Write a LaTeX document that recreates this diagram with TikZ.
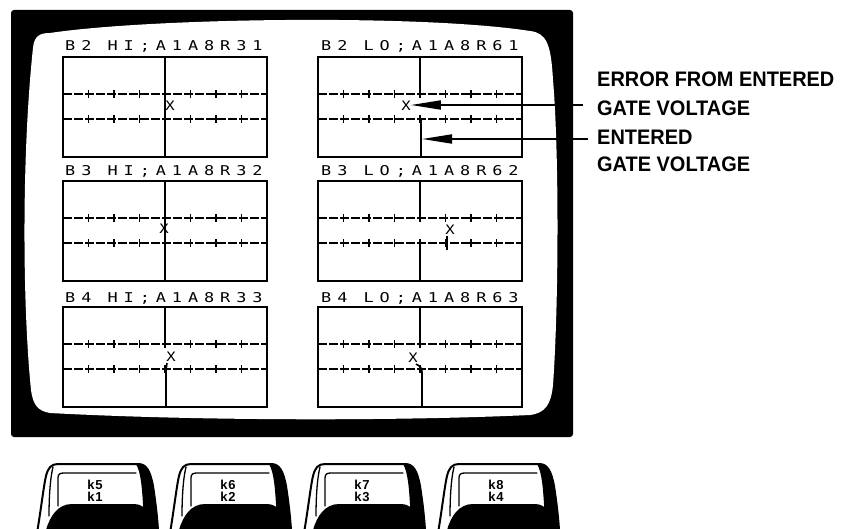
\documentclass[tikz,border=0pt]{standalone}
\usepackage{fontspec}
\usetikzlibrary{arrows.meta}
\newfontfamily\lblfont[FakeStretch=0.95]{Liberation Sans}
\newfontfamily\scrfont[FakeStretch=1.25,LetterSpace=44]{DejaVu Sans Mono}
\newfontfamily\xmfont[FakeStretch=1.2]{DejaVu Sans Mono}
\newfontfamily\keyfnt{Liberation Sans}

\tikzset{
 bezel/.style={fill=black, rounded corners=3pt},
 screen/.style={fill=white},
 frameline/.style={line width=1.6pt},
 gridline/.style={line width=1.6pt, dash pattern=on 9pt off 2pt},
 tickline/.style={line width=1.6pt},
 title/.style={font=\scrfont\fontsize{13.5}{13.5}\selectfont, inner sep=0pt, anchor=base west},
 xmark/.style={font=\xmfont\fontsize{13}{13}\selectfont, inner sep=0pt},
 lbl/.style={font=\lblfont\bfseries\fontsize{21}{21}\selectfont, inner sep=0pt, anchor=base west},
 pointer/.style={line width=1.8pt, -{Triangle[length=30pt,width=9pt]}},
 keyline/.style={line width=2pt, line cap=round, line join=round},
 keythin/.style={line width=1.3pt, line cap=round},
 keytext/.style={font=\keyfnt\bfseries\fontsize{13}{13}\selectfont, inner sep=0pt},
}

\newcommand\scrpanel[2]{%
 \draw[frameline] (#1,#2) rectangle (#1+204,#2+100);
 \draw[gridline] (#1,#2+37) -- (#1+204,#2+37);
 \draw[gridline] (#1,#2+62) -- (#1+204,#2+62);
 \foreach \k in {-3,...,3}{
  \draw[tickline] (#1+102+25.5*\k,#2+33) -- (#1+102+25.5*\k,#2+41);
  \draw[tickline] (#1+102+25.5*\k,#2+58) -- (#1+102+25.5*\k,#2+66);
 }
}

\newcommand\keycap[4]{%
 \begin{scope}[shift={(#1,464)}]
  \fill[white] (1.5,66) .. controls (5,45) and (8,20) .. (10,12) .. controls (12,4) and (15,0) .. (22,0) -- (102,0) .. controls (110,0) and (114,6) .. (117,22) .. controls (119,35) and (121,50) .. (122,66) -- cycle;
  \fill (102,0) .. controls (110,0) and (115,6) .. (117,22) .. controls (119,35) and (121,50) .. (122,66) -- (108,66) -- (107,40) .. controls (106,25) and (105,8) .. (100,0) -- cycle;
  \fill (10,66) .. controls (14,52) and (22,40) .. (36,40) -- (98,40) .. controls (110,40) and (116,52) .. (120,66) -- cycle;
  \draw[keyline] (1.5,66) .. controls (5,45) and (8,20) .. (10,12) .. controls (12,4) and (15,0) .. (22,0) -- (102,0) .. controls (110,0) and (114,6) .. (117,22) .. controls (119,35) and (121,50) .. (122,66);
  \draw[keythin] (22,42) -- (22,14) .. controls (22,10) and (24,9) .. (28,9) -- (100,9);
  \draw[keythin] (17,3) .. controls (14,15) and (13,35) .. (13,52);
  \node[keytext] (#2a) at (59,21) {#3};
  \node[keytext] (#2b) at (59,33) {#4};
 \end{scope}}

\begin{document}
\begin{tikzpicture}[x=1pt,y=-1pt]
\useasboundingbox (0,0) rectangle (850,529);
% monitor
\fill[bezel] (11,10) rectangle (573,437);
\fill[screen] (33,48) .. controls (34,36) and (40,33) .. (50,33)
  .. controls (150,18) and (420,14) .. (530,31)
  .. controls (547,33) and (551,45) .. (553,80)
  .. controls (559,150) and (559,300) .. (553,385)
  .. controls (551,405) and (545,413) .. (530,415)
  .. controls (400,421) and (200,421) .. (50,413)
  .. controls (38,411) and (33,405) .. (31,390)
  .. controls (22,300) and (22,150) .. (33,48) -- cycle;
% panels
\scrpanel{63}{57}
\scrpanel{318}{57}
\scrpanel{63}{181}
\scrpanel{318}{181}
\scrpanel{63}{307}
\scrpanel{318}{307}
% titles
\node[title] (tL1) at (65,51) {B2 HI;A1A8R31};
\node[title] (tR1) at (321,51) {B2 LO;A1A8R61};
\node[title] (tL2) at (65,176) {B3 HI;A1A8R32};
\node[title] (tR2) at (321,176) {B3 LO;A1A8R62};
\node[title] (tL3) at (65,302) {B4 HI;A1A8R33};
\node[title] (tR3) at (321,302) {B4 LO;A1A8R63};
% vertical centre lines
\draw[frameline] (165,57) -- (165,157);
\draw[frameline] (165,181) -- (165,281);
\draw[frameline] (165,307) -- (165,344);
\draw[frameline] (167,363) -- (166,370) -- (166,407);
\draw[frameline] (420,57) -- (420,94);
\draw[frameline] (421,118) -- (421,157);
\draw[frameline] (420,181) -- (420,218);
\draw[frameline] (420,242) -- (420,281);
\draw[frameline] (447,236) -- (447,250);
\draw[frameline] (420,307) -- (420,344);
\draw[frameline] (416,364) .. controls (420,366) and (422,368) .. (422,372) -- (422,407);
% X marks
\node[xmark] (xL1) at (170,106) {X};
\node[xmark] (xR1) at (406,106) {X};
\node[xmark] (xL2) at (164,229) {X};
\node[xmark] (xR2) at (450,230) {X};
\node[xmark] (xL3) at (171,357) {X};
\node[xmark] (xR3) at (413,358) {X};
% labels
\node[lbl] (l1) at (597,87) {ERROR FROM ENTERED};
\node[lbl] (l2) at (597,116) {GATE VOLTAGE};
\node[lbl] (l3) at (597,144.5) {ENTERED};
\node[lbl] (l4) at (597,171.5) {GATE VOLTAGE};
\coordinate (a1s) at (583,105);
\coordinate (a2s) at (588,139);
\coordinate (v1R) at (422,139);
\draw[pointer] (a1s) -- (a1s -| xR1.east);
\draw[pointer] (a2s) -- (v1R);
% keys
\keycap{36}{k1}{k\kern1pt5}{k\kern1pt1}
\keycap{169}{k2}{k\kern1pt6}{k\kern1pt2}
\keycap{303}{k3}{k\kern1pt7}{k\kern1pt3}
\keycap{437}{k4}{k\kern1pt8}{k\kern1pt4}
\end{tikzpicture}
\end{document}
